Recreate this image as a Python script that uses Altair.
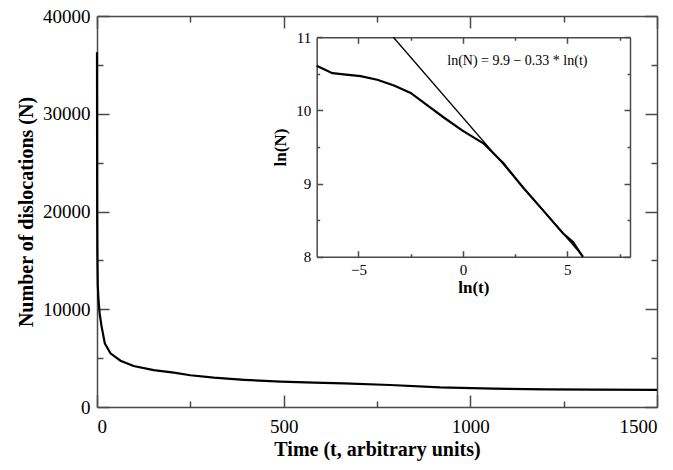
import altair as alt
import pandas as pd

# ---------------- data ----------------
# main panel: time vs number of dislocations
main_t = [0, 0.5, 1, 2, 4, 7, 12, 21, 36, 63, 98, 152, 206, 250, 313, 394,
          492, 581, 661, 785, 919, 1061, 1204, 1334, 1500]
main_n = [36300, 19000, 15500, 12500, 11000, 9600, 8300, 6500, 5490, 4740,
          4190, 3780, 3510, 3250, 3000, 2780, 2590, 2490, 2420, 2250, 2000,
          1880, 1800, 1780, 1760]

# inset: ln(t) vs ln(N)
inset_lnt = [-7.0, -6.25, -5.6, -4.9, -4.1, -3.3, -2.5, -1.7, -0.9, 0.0,
             0.98, 1.93, 2.9, 3.85, 4.79, 5.27, 5.74]
inset_lnn = [10.61, 10.51, 10.49, 10.47, 10.42, 10.34, 10.24, 10.07, 9.90,
             9.72, 9.55, 9.28, 8.94, 8.63, 8.32, 8.20, 8.0]

# fitted line ln(N) = 9.9 - 0.33 ln(t), end points inside the inset frame
fit_lnt = [-3.33, 5.76]
fit_lnn = [11.0, 8.0]

annot_text = ["ln(N) = 9.9 \u2212 0.33 * ln(t)"]
annot_x = [-0.75]
annot_y = [10.68]

main_x_major = [0, 500, 1000, 1500]
main_x_minor = [250, 750, 1250]
main_y_major = [0, 10000, 20000, 30000, 40000]
main_y_minor = [5000, 15000, 25000, 35000]
inset_x_major = [-5, 0, 5]
inset_x_minor = [-2.5, 2.5, 7.5]
inset_y_major = [8, 9, 10, 11]
inset_y_minor = [8.5, 9.5, 10.5]

# ---------------- layout ----------------
W, H = 560, 391
FONT = "Liberation Serif"
FRAME = "#4a4a4a"

main_df = pd.DataFrame({"t": main_t, "n": main_n})
inset_df = pd.DataFrame({"lt": inset_lnt, "ln": inset_lnn})
fit_df = pd.DataFrame({"lt": fit_lnt, "ln": fit_lnn})
annot_df = pd.DataFrame({"lt": annot_x, "ln": annot_y, "txt": annot_text})

xs_main = alt.Scale(domain=[0, 1500], nice=False, zero=False)
ys_main = alt.Scale(domain=[0, 40000], nice=False, zero=False)

ix0, ix1 = 219.7, 533.0
iy0, iy1 = 240.7, 21.3
xs_in = alt.Scale(domain=[-7, 8], range=[ix0, ix1], nice=False, zero=False)
ys_in = alt.Scale(domain=[8, 11], range=[iy0, iy1], nice=False, zero=False)


def tick_axis(orient, offset, values, size, domain=False):
    return alt.Axis(orient=orient, offset=offset, values=values, tickSize=size,
                    labels=False, title=None, domain=domain, grid=False,
                    tickColor=FRAME, tickWidth=1.5, domainColor=FRAME,
                    domainWidth=1.5)


def ghost(df, xf, yf, xscale, yscale, xaxis, yaxis):
    return alt.Chart(df).mark_point(opacity=0, size=1).encode(
        x=alt.X(xf, type="quantitative", scale=xscale, axis=xaxis),
        y=alt.Y(yf, type="quantitative", scale=yscale, axis=yaxis),
    )


# main panel
main_line = alt.Chart(main_df).mark_line(color="black", strokeWidth=2.2).encode(
    x=alt.X("t:Q", scale=xs_main, axis=alt.Axis(
        orient="bottom", values=main_x_major, ticks=False, domain=True,
        domainColor=FRAME, domainWidth=1.5, grid=False, format="d",
        labelFont=FONT, labelFontSize=19, labelColor="black", labelPadding=10,
        title="Time (t, arbitrary units)", titleFont=FONT, titleFontSize=20,
        titleFontWeight="bold", titleColor="black", titlePadding=3)),
    y=alt.Y("n:Q", scale=ys_main, axis=alt.Axis(
        orient="left", values=main_y_major, ticks=False, domain=True,
        domainColor=FRAME, domainWidth=1.5, grid=False, format="d",
        labelFont=FONT, labelFontSize=19, labelColor="black", labelPadding=7,
        title="Number of dislocations (N)", titleFont=FONT, titleFontSize=20,
        titleFontWeight="bold", titleColor="black", titlePadding=6)),
)

main_layers = [
    main_line,
    ghost(main_df, "t", "n", xs_main, ys_main,
          tick_axis("top", -H, main_x_major, 12),
          tick_axis("right", -W, main_y_major, 12)),
    ghost(main_df, "t", "n", xs_main, ys_main,
          tick_axis("top", -H, main_x_minor, 6),
          tick_axis("right", -W, main_y_minor, 6)),
    ghost(main_df, "t", "n", xs_main, ys_main,
          tick_axis("bottom", -H, main_x_major, 12, domain=True),
          tick_axis("left", -W, main_y_major, 12, domain=True)),
    ghost(main_df, "t", "n", xs_main, ys_main,
          tick_axis("bottom", -H, main_x_minor, 6),
          tick_axis("left", -W, main_y_minor, 6)),
]
main = alt.layer(*main_layers).resolve_axis(x="independent", y="independent")

# inset panel
inset_line = alt.Chart(inset_df).mark_line(color="black", strokeWidth=2.2).encode(
    x=alt.X("lt:Q", scale=xs_in, axis=alt.Axis(
        orient="bottom", offset=iy0 - H, values=inset_x_major, ticks=False,
        domain=True, domainColor=FRAME, domainWidth=1.5, grid=False,
        labelFont=FONT, labelFontSize=15, labelColor="black", labelPadding=6,
        title="ln(t)", titleFont=FONT, titleFontSize=17, titleFontWeight="bold",
        titleColor="black", titlePadding=2)),
    y=alt.Y("ln:Q", scale=ys_in, axis=alt.Axis(
        orient="left", offset=-ix0, values=inset_y_major, ticks=False,
        domain=True, domainColor=FRAME, domainWidth=1.5, grid=False,
        labelFont=FONT, labelFontSize=15, labelColor="black", labelPadding=6,
        title="ln(N)", titleFont=FONT, titleFontSize=17, titleFontWeight="bold",
        titleColor="black", titlePadding=6)),
)
fit_line = alt.Chart(fit_df).mark_line(color="black", strokeWidth=1.3).encode(
    x=alt.X("lt:Q", scale=xs_in, axis=None),
    y=alt.Y("ln:Q", scale=ys_in, axis=None),
)
annot = alt.Chart(annot_df).mark_text(
    font=FONT, fontSize=14, align="left", baseline="middle", color="black"
).encode(
    x=alt.X("lt:Q", scale=xs_in, axis=None),
    y=alt.Y("ln:Q", scale=ys_in, axis=None),
    text="txt:N",
)

inset_layers = [
    inset_line, fit_line, annot,
    ghost(inset_df, "lt", "ln", xs_in, ys_in,
          tick_axis("top", -iy0, inset_x_major, 6),
          tick_axis("right", ix0 - W, inset_y_major, 6)),
    ghost(inset_df, "lt", "ln", xs_in, ys_in,
          tick_axis("top", -iy0, inset_x_minor, 3),
          tick_axis("right", ix0 - W, inset_y_minor, 3)),
    ghost(inset_df, "lt", "ln", xs_in, ys_in,
          tick_axis("bottom", iy1 - H, inset_x_major, 6, domain=True),
          tick_axis("left", -ix1, inset_y_major, 6, domain=True)),
    ghost(inset_df, "lt", "ln", xs_in, ys_in,
          tick_axis("bottom", iy1 - H, inset_x_minor, 3),
          tick_axis("left", -ix1, inset_y_minor, 3)),
]
inset = alt.layer(*inset_layers).resolve_axis(x="independent", y="independent")

chart = alt.layer(main, inset).resolve_scale(
    x="independent", y="independent"
).properties(
    width=W, height=H,
    autosize=alt.AutoSizeParams(type="none"),
    padding={"left": 89, "top": 8, "right": 8, "bottom": 55},
    background="white",
).configure_view(stroke=None).configure_axis(grid=False)

chart.save("out.html", embed_options={"renderer": "svg", "actions": False})
